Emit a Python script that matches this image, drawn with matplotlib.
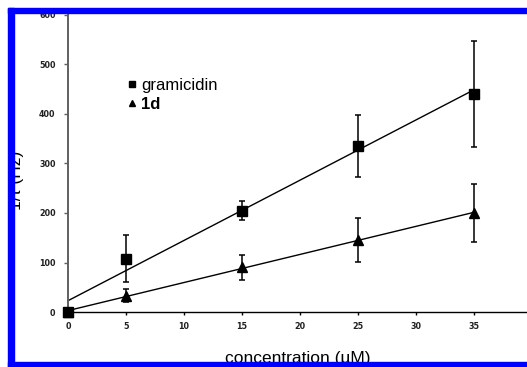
import matplotlib
matplotlib.use("Agg")
import matplotlib.pyplot as plt
from matplotlib.patches import Rectangle
from matplotlib.lines import Line2D
import numpy as np

plt.rcParams['font.family'] = ['Liberation Sans', 'DejaVu Sans']

conc = [0, 5, 15, 25, 35]
gram = [0, 108, 205, 335, 440]
gram_err = [0, 48, 20, 62, 107]
d1 = [0, 33, 90, 145, 200]
d1_err = [0, 13, 26, 44, 58]
xticks = [0, 5, 10, 15, 20, 25, 30, 35, 40]
yticks = [0, 100, 200, 300, 400, 500, 600]

W, H = 527, 367
fig = plt.figure(figsize=(W/100, H/100), dpi=100)
ax = fig.add_axes([68/W, 1-312/H, (532-68)/W, (312-15)/H])
ax.set_xlim(0, 40)
ax.set_ylim(0, 600)

x = np.array(conc, dtype=float)
for ys, err, mk in [(gram, gram_err, 's'), (d1, d1_err, '^')]:
    ys = np.array(ys, dtype=float)
    k, b = np.polyfit(x, ys, 1)
    xx = np.array([0, 35])
    ax.plot(xx, k*xx + b, color='black', lw=1.0, zorder=2, clip_on=False)
    ax.errorbar(x, ys, yerr=err, fmt='none', ecolor='black', elinewidth=1.1,
                capsize=2.2, capthick=1.1, zorder=3, clip_on=False)
    ax.plot(x, ys, mk, color='black', ms=7.5, zorder=4, clip_on=False)

ax.spines['top'].set_visible(False)
ax.spines['right'].set_visible(False)
ax.spines['left'].set_color('#606060')
ax.spines['left'].set_linewidth(1.4)
ax.spines['bottom'].set_color('black')
ax.spines['bottom'].set_linewidth(1.0)
ax.set_xticks(xticks)
ax.set_yticks(yticks)
ax.tick_params(axis='y', colors='#606060', length=3, width=1, pad=6, labelcolor='black')
ax.tick_params(axis='x', colors='black', length=2.5, width=1, pad=5)
for lab in ax.get_xticklabels() + ax.get_yticklabels():
    lab.set_fontsize(5.8)
    lab.set_fontweight('bold')
    lab.set_fontfamily('DejaVu Sans')
    lab.set_color('#202020')

fig.text(298/W, 1-359/H, 'concentration (µM)', fontsize=12.5, ha='center', va='center')
fig.text(16/W, 1-180/H, '1/τ (Hz)', fontsize=12.5, ha='center', va='center', rotation=90)

handles = [Line2D([], [], marker='s', ls='none', color='black', ms=4),
           Line2D([], [], marker='^', ls='none', color='black', ms=4)]
leg = ax.legend(handles, ['gramicidin', '1d'], loc='upper left',
                bbox_to_anchor=(128/W, 1-78/H), bbox_transform=fig.transFigure,
                frameon=False, fontsize=12, handlelength=0.45, handletextpad=0.35,
                labelspacing=0.22, borderpad=0, borderaxespad=0)
leg.get_texts()[1].set_fontweight('bold')

blue = (0, 0, 1)
fig.patches.append(Rectangle((8/W, 0), 6/W, 1-8/H, transform=fig.transFigure, color=blue, zorder=20))
fig.patches.append(Rectangle((8/W, 1-13/H), 1, 5/H, transform=fig.transFigure, color=blue, zorder=20))
fig.patches.append(Rectangle((8/W, 0), 1, 5/H, transform=fig.transFigure, color=blue, zorder=20))

fig.savefig('out.png', dpi=100)
